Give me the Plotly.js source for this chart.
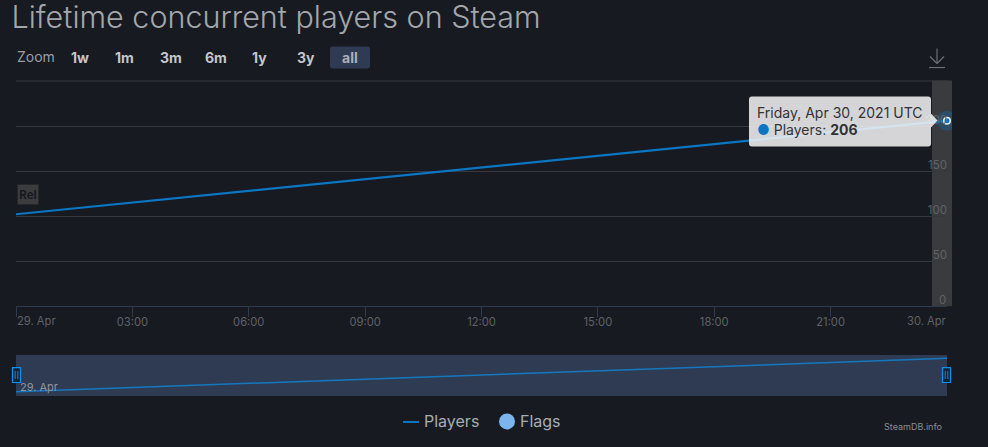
<!DOCTYPE html>
<html>
<head>
<meta charset="utf-8">
<script src="https://cdn.plot.ly/plotly-3.0.1.min.js"></script>
<style>html,body{margin:0;padding:0;background:#171a21;overflow:hidden}#c{width:988px;height:447px}</style>
</head>
<body>
<div id="c"></div>
<script>
var dates = ['2021-04-29 00:00', '2021-04-30 00:00'];
var players = [102, 206];
var xTickVals = ['2021-04-29 00:00','2021-04-29 03:00','2021-04-29 06:00','2021-04-29 09:00','2021-04-29 12:00','2021-04-29 15:00','2021-04-29 18:00','2021-04-29 21:00','2021-04-30 00:00'];
var xTickText = ['','03:00','06:00','09:00','12:00','15:00','18:00','21:00',''];
var yTickVals = [0,50,100,150,200,250];
var yTickText = ['','50','100','150','200',''];
var zoomLabels = ['1w','1m','3m','6m','1y','3y','all'];
var zoomCenters = [79.5,124,171,215.5,259.5,305.5,350];

var W=988,H=447,L=16,R=947,T=80.5,B=396;
var FONT='Inter, "Noto Sans", sans-serif';
function px(x){return (x-L)/(R-L);}
function py(y){return (B-y)/(B-T);}
function rr(x0,y0,x1,y1,r){
  return 'M'+px(x0+r)+','+py(y0)+' L'+px(x1-r)+','+py(y0)+' Q'+px(x1)+','+py(y0)+' '+px(x1)+','+py(y0+r)+
   ' L'+px(x1)+','+py(y1-r)+' Q'+px(x1)+','+py(y1)+' '+px(x1-r)+','+py(y1)+' L'+px(x0+r)+','+py(y1)+
   ' Q'+px(x0)+','+py(y1)+' '+px(x0)+','+py(y1-r)+' L'+px(x0)+','+py(y0+r)+' Q'+px(x0)+','+py(y0)+' '+px(x0+r)+','+py(y0)+' Z';
}
function rectS(x0,y0,x1,y1,fill,layer,line){
  return {type:'rect',xref:'paper',yref:'paper',x0:px(x0),x1:px(x1),y0:py(y0),y1:py(y1),fillcolor:fill,layer:layer||'below',line:line||{width:0}};
}
function lineS(x0,y0,x1,y1,c,w,layer){
  return {type:'line',xref:'paper',yref:'paper',x0:px(x0),x1:px(x1),y0:py(y0),y1:py(y1),layer:layer||'above',line:{color:c,width:w||1}};
}
function note(x,y,text,size,color,anchor,extra){
  var a={xref:'paper',yref:'paper',x:px(x),y:py(y),text:text,showarrow:false,xanchor:anchor||'center',yanchor:'middle',
    font:{family:FONT,size:size,color:color},borderpad:0};
  for(var k in (extra||{}))a[k]=extra[k];
  return a;
}
var lineColor='#0a76c4';
var traces=[
  {x:dates,y:players,name:'Players',type:'scatter',mode:'lines',showlegend:false,line:{color:lineColor,width:2.2},xaxis:'x',yaxis:'y',hoverinfo:'skip'},
  {x:dates.slice(-1),y:players.slice(-1),type:'scatter',mode:'markers',showlegend:false,cliponaxis:false,marker:{color:'rgba(10,118,196,0.3)',size:20},xaxis:'x',yaxis:'y',hoverinfo:'skip'},
  {x:dates.slice(-1),y:players.slice(-1),type:'scatter',mode:'markers',showlegend:false,cliponaxis:false,marker:{color:lineColor,size:6.5,line:{color:'#e8f2fa',width:1.5}},xaxis:'x',yaxis:'y',hoverinfo:'skip'},
  {x:dates,y:players,type:'scatter',mode:'lines',showlegend:false,line:{color:'#1577c0',width:1.5},xaxis:'x2',yaxis:'y2',hoverinfo:'skip'}
];
var shapes=[
  rectS(L,355,R,396,'#2e3b52','below'),
  rectS(932,80,952,306,'#3a3b3f','below'),
  lineS(L,80.5,R,80.5,'#37383c',1,'below'),
  {type:'path',xref:'paper',yref:'paper',layer:'above',fillcolor:'rgba(247,247,247,0.85)',line:{width:0},
   path:rr(749,96,931,146,3).replace(/ Z$/,'')+' Z M'+px(931)+','+py(113)+' L'+px(937.5)+','+py(120)+' L'+px(931)+','+py(127)+' Z'},
  rectS(952,100,966,140,'#171a21','above'),
  {type:'path',xref:'paper',yref:'paper',layer:'below',fillcolor:'#2e3b52',line:{width:0},path:rr(330,46,370,68,3)},
  lineS(929,67,945,67,'#6a6d72',1.2),
  lineS(937,48,937,63,'#6a6d72',1.2),
  lineS(930,56,937,63,'#6a6d72',1.2),
  lineS(944,56,937,63,'#6a6d72',1.2),
  rectS(12.5,367.5,20.5,382.5,'#172233','above',{color:'#0a93f5',width:1.2}),
  rectS(942.5,367.5,950.5,382.5,'#172233','above',{color:'#0a93f5',width:1.2}),
  lineS(15.2,371,15.2,379,'#1a8ce0',0.9),lineS(17.8,371,17.8,379,'#1a8ce0',0.9),
  lineS(945.2,371,945.2,379,'#1a8ce0',0.9),lineS(947.8,371,947.8,379,'#1a8ce0',0.9),
  lineS(403,422,419,422,lineColor,2),
  {type:'circle',xref:'paper',yref:'paper',layer:'above',fillcolor:'#7cb5ec',line:{width:0},x0:px(499),x1:px(515),y0:py(413.5),y1:py(429.5)}
];
var annotations=[
  note(16,55.5,'Zoom',14,'#9a9ea4','left'),
  note(756,112.5,'Friday, Apr 30, 2021 UTC',14,'#333','left'),
  note(756,129.5,'<span style="color:#0a76c4">●</span> Players: <b>206</b>',14,'#333','left'),
  note(27.5,194,'<b>Rel</b>',11.5,'#17191f','center',{bgcolor:'#3c3c3e',bordercolor:'#26272b',borderwidth:1,width:20,height:19}),
  note(15.5,320.5,'29. Apr',11.2,'#5f6266','left'),
  note(947.5,320.5,'30. Apr',11.2,'#5f6266','right'),
  note(947.5,300,'0',11.5,'#5f6266','right'),
  note(19,386.5,'29. Apr',11,'#8e949e','left'),
  note(943,426.5,'SteamDB.info',9,'#8a8d91','right'),
  note(423,421,'Players',16,'#a9adb2','left'),
  note(519,421,'Flags',16,'#a9adb2','left')
];
zoomLabels.forEach(function(l,i){
  annotations.push(note(zoomCenters[i],56.5,'<b>'+l+'</b>',14,l==='all'?'#aab0b8':'#c3c6ca','center'));
});
var layout={
  width:W,height:H,
  paper_bgcolor:'#171a21',plot_bgcolor:'rgba(0,0,0,0)',
  margin:{l:L,r:W-R,t:T,b:H-B,pad:0,autoexpand:false},
  font:{family:FONT,color:'#6a6d72'},
  title:{text:'Lifetime concurrent players on Steam',x:11.5/W,xanchor:'left',xref:'container',y:1-17.5/H,yanchor:'middle',font:{family:FONT,size:30.5,color:'#a3a7ac',weight:300}},
  xaxis:{type:'date',domain:[0,1],anchor:'y',range:[dates[0],dates[1]],tickmode:'array',tickvals:xTickVals,ticktext:xTickText,
    ticks:'outside',ticklen:10,tickcolor:'#2e3b4f',tickwidth:1,showgrid:false,zeroline:false,showline:true,linecolor:'#2e3b4f',linewidth:1,
    ticklabelstandoff:-5,tickfont:{family:FONT,size:11.2,color:'#5f6266'},fixedrange:true},
  yaxis:{domain:[py(306),1],anchor:'x',side:'right',range:[0,250],tickmode:'array',tickvals:yTickVals,ticktext:yTickText,
    ticklabelposition:'inside',ticklabelshift:-6,ticklabelstandoff:-3,showgrid:true,gridcolor:'#37383c',gridwidth:1,zeroline:false,showline:false,ticks:'',
    tickfont:{family:FONT,size:11.5,color:'#5f6266'},fixedrange:true},
  xaxis2:{type:'date',domain:[0,1],anchor:'y2',range:[dates[0],dates[1]],visible:false,fixedrange:true},
  yaxis2:{domain:[0,py(355)],anchor:'x2',range:[88.6,216.3],visible:false,fixedrange:true},
  showlegend:false,
  shapes:shapes,annotations:annotations,hovermode:false
};
Plotly.newPlot('c',traces,layout,{displayModeBar:false,staticPlot:true});
</script>
</body>
</html>
